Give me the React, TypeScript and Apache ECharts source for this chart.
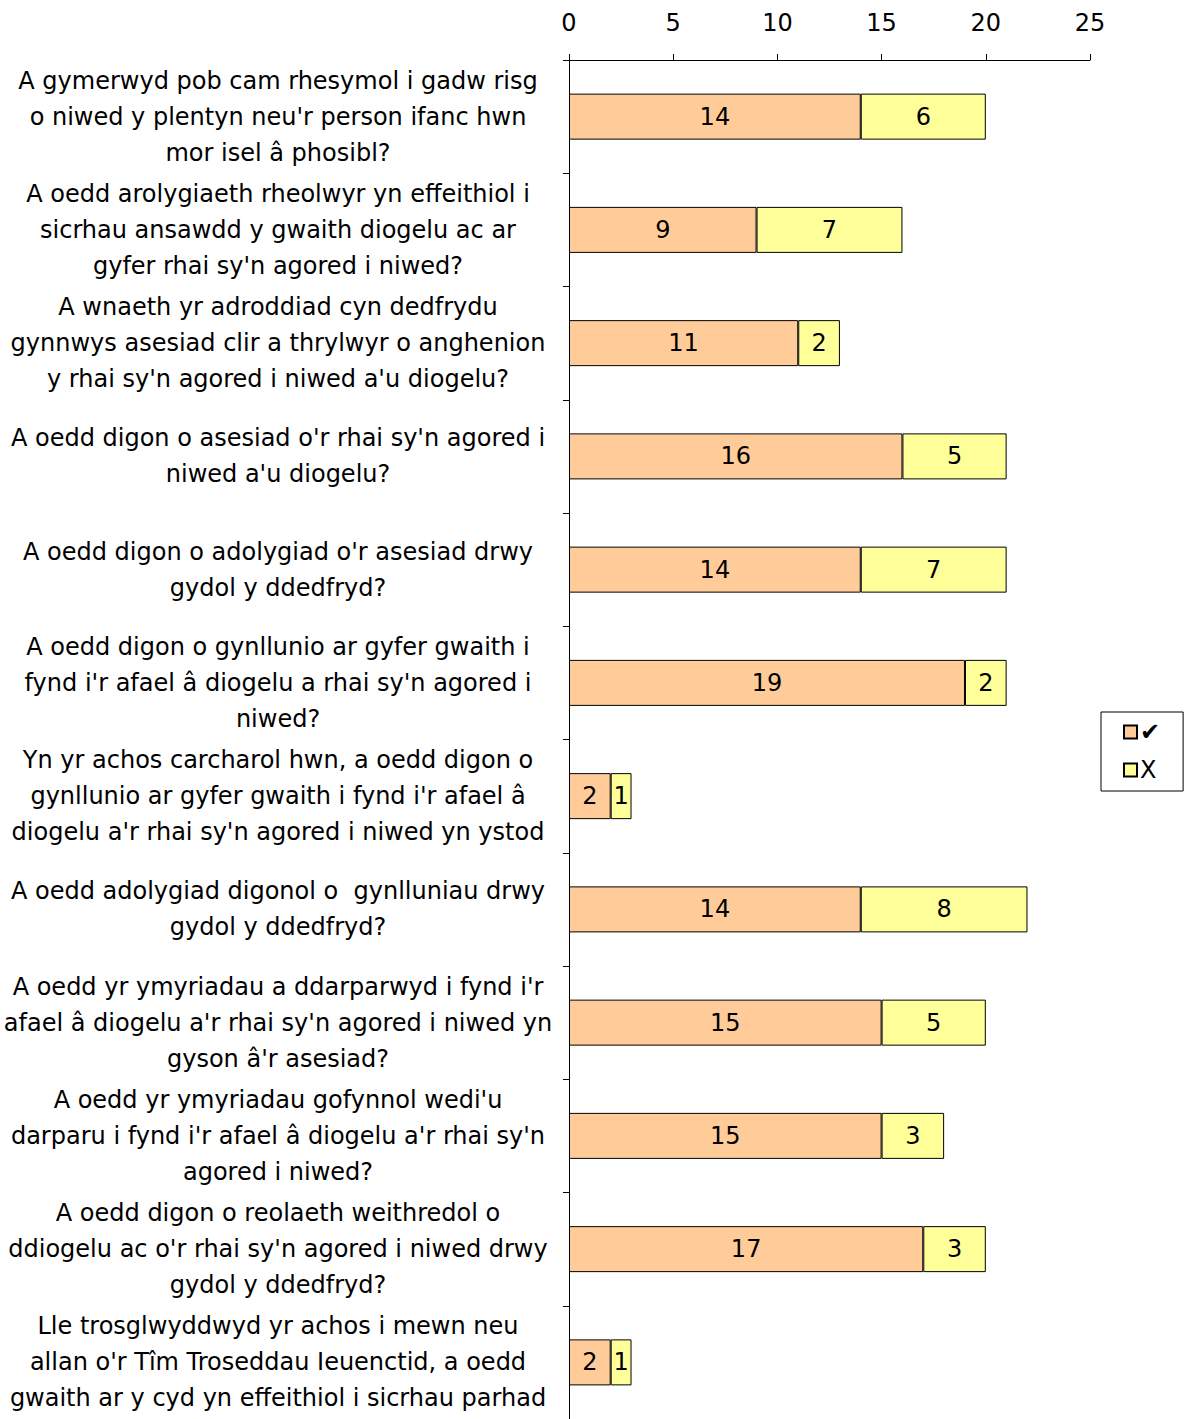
import React, { useEffect, useRef } from "react";
import * as echarts from "echarts";

const categories = [
  "A gymerwyd pob cam rhesymol i gadw risg\no niwed y plentyn neu'r person ifanc hwn\nmor isel â phosibl?",
  "A oedd arolygiaeth rheolwyr yn effeithiol i\nsicrhau ansawdd y gwaith diogelu ac ar\ngyfer rhai sy'n agored i niwed?",
  "A wnaeth yr adroddiad cyn dedfrydu\ngynnwys asesiad clir a thrylwyr o anghenion\ny rhai sy'n agored i niwed a'u diogelu?",
  "A oedd digon o asesiad o'r rhai sy'n agored i\nniwed a'u diogelu?",
  "A oedd digon o adolygiad o'r asesiad drwy\ngydol y ddedfryd?",
  "A oedd digon o gynllunio ar gyfer gwaith i\nfynd i'r afael â diogelu a rhai sy'n agored i\nniwed?",
  "Yn yr achos carcharol hwn, a oedd digon o\ngynllunio ar gyfer gwaith i fynd i'r afael â\ndiogelu a'r rhai sy'n agored i niwed yn ystod",
  "A oedd adolygiad digonol o  gynlluniau drwy\ngydol y ddedfryd?",
  "A oedd yr ymyriadau a ddarparwyd i fynd i'r\nafael â diogelu a'r rhai sy'n agored i niwed yn\ngyson â'r asesiad?",
  "A oedd yr ymyriadau gofynnol wedi'u\ndarparu i fynd i'r afael â diogelu a'r rhai sy'n\nagored i niwed?",
  "A oedd digon o reolaeth weithredol o\nddiogelu ac o'r rhai sy'n agored i niwed drwy\ngydol y ddedfryd?",
  "Lle trosglwyddwyd yr achos i mewn neu\nallan o'r Tîm Troseddau Ieuenctid, a oedd\ngwaith ar y cyd yn effeithiol i sicrhau parhad",
];

const yesValues = [14, 9, 11, 16, 14, 19, 2, 14, 15, 15, 17, 2];
const noValues = [6, 7, 2, 5, 7, 2, 1, 8, 5, 3, 3, 1];
const seriesNames = ["✔", "X"];

const FONT = "DejaVu Sans";

export default function App() {
  const ref = useRef<HTMLDivElement>(null);
  useEffect(() => {
    document.body.style.margin = "0";
    document.body.style.overflow = "hidden";
    const chart = echarts.init(ref.current!, null, { renderer: "svg" });
    const labelStyle = {
      show: true,
      position: "inside",
      color: "#000",
      fontSize: 24,
      fontFamily: FONT,
    };
    chart.setOption({
      animation: false,
      textStyle: { fontFamily: FONT },
      grid: { left: 569, top: 60, width: 521, height: 1364 },
      legend: {
        orient: "vertical",
        left: 1101,
        top: 712,
        padding: [8, 23, 9, 22],
        itemGap: 14,
        itemWidth: 13,
        itemHeight: 13,
        borderColor: "#000",
        borderWidth: 1,
        textStyle: { fontSize: 24, color: "#000", fontFamily: FONT, padding: [0, 0, 0, -2] },
        data: seriesNames.map((n) => ({ name: n, icon: "rect" })),
      },
      xAxis: {
        type: "value",
        position: "top",
        min: 0,
        max: 25,
        interval: 5,
        splitLine: { show: false },
        axisLine: { show: true, lineStyle: { color: "#000", width: 1 } },
        axisTick: { show: true, inside: false, length: 6, lineStyle: { color: "#000" } },
        axisLabel: { color: "#000", fontSize: 24, fontFamily: FONT, margin: 25 },
      },
      yAxis: {
        type: "category",
        inverse: true,
        data: categories,
        axisLine: { show: true, lineStyle: { color: "#000", width: 1 } },
        axisTick: { show: true, length: 6, alignWithLabel: false, lineStyle: { color: "#000" } },
        axisLabel: {
          color: "#000",
          fontSize: 24,
          fontFamily: FONT,
          align: "center",
          margin: 291,
          lineHeight: 36,
          interval: 0,
        },
      },
      series: [
        {
          name: seriesNames[0],
          type: "bar",
          stack: "t",
          data: yesValues,
          barWidth: 46,
          itemStyle: { color: "#FFCC99", borderColor: "#000", borderWidth: 1 },
          label: labelStyle,
        },
        {
          name: seriesNames[1],
          type: "bar",
          stack: "t",
          data: noValues,
          barWidth: 46,
          itemStyle: { color: "#FFFF99", borderColor: "#000", borderWidth: 1 },
          label: labelStyle,
        },
      ],
    });
    return () => chart.dispose();
  }, []);
  return (
    <div
      ref={ref}
      style={{ position: "fixed", left: 0, top: 0, width: 1185, height: 1419, background: "#fff" }}
    />
  );
}
